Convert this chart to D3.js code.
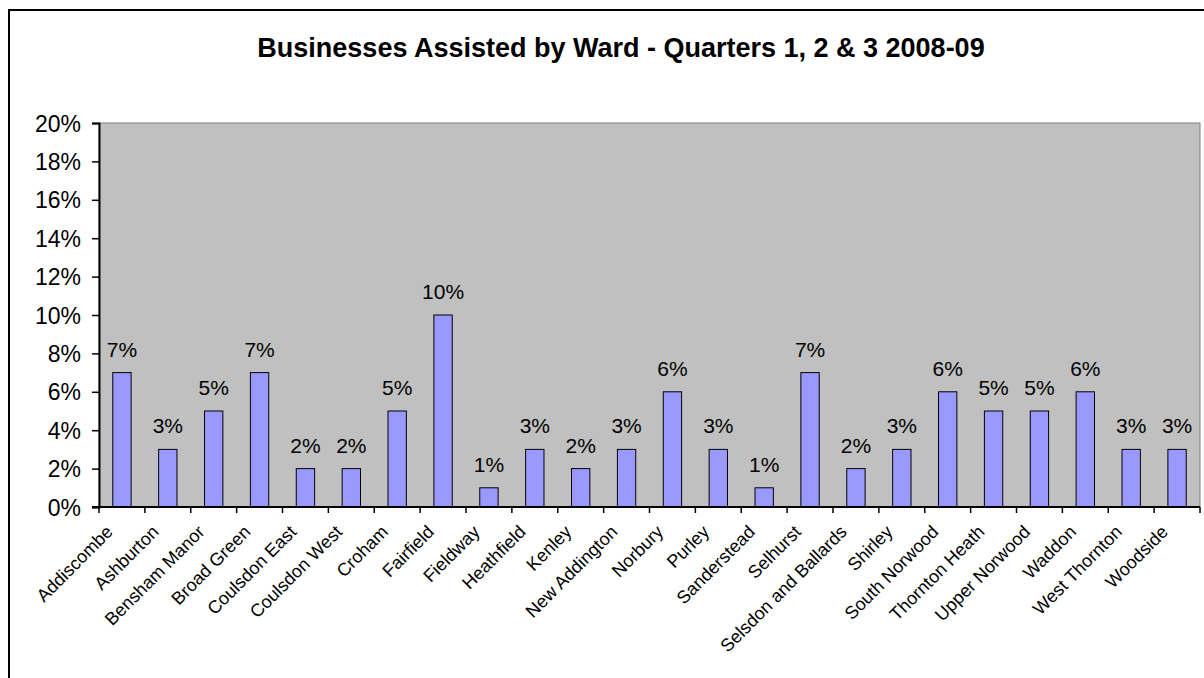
<!DOCTYPE html>
<html>
<head>
<meta charset="utf-8">
<script src="https://cdn.jsdelivr.net/npm/d3@7"></script>
<style>
  body { margin: 0; background: #fff; }
  text { font-family: "Liberation Sans", Arial, sans-serif; fill: #000; }
</style>
</head>
<body>
<script>
var wards = ["Addiscombe", "Ashburton", "Bensham Manor", "Broad Green", "Coulsdon East",
  "Coulsdon West", "Croham", "Fairfield", "Fieldway", "Heathfield", "Kenley",
  "New Addington", "Norbury", "Purley", "Sanderstead", "Selhurst", "Selsdon and Ballards",
  "Shirley", "South Norwood", "Thornton Heath", "Upper Norwood", "Waddon",
  "West Thornton", "Woodside"];
var shares = [7, 3, 5, 7, 2, 2, 5, 10, 1, 3, 2, 3, 6, 3, 1, 7, 2, 3, 6, 5, 5, 6, 3, 3];
var yTicks = [0, 2, 4, 6, 8, 10, 12, 14, 16, 18, 20];
var title = "Businesses Assisted by Ward - Quarters 1, 2 & 3 2008-09";

var w = 1204, h = 678;
var plot = {left: 99, top: 123, right: 1200, bottom: 507};

var svg = d3.select("body").append("svg")
    .attr("width", w)
    .attr("height", h);

// outer chart frame (runs off the picture on the right and bottom)
svg.append("rect")
    .attr("x", 9).attr("y", 10)
    .attr("width", 1260).attr("height", 720)
    .attr("fill", "#fff")
    .attr("stroke", "#000")
    .attr("stroke-width", 2);

svg.append("text")
    .attr("x", 621).attr("y", 57)
    .attr("text-anchor", "middle")
    .attr("font-size", 27)
    .attr("font-weight", "bold")
    .text(title);

var x = d3.scaleBand()
    .domain(wards)
    .range([plot.left, plot.right])
    .paddingInner(0.6)
    .paddingOuter(0.3);

var y = d3.scaleLinear()
    .domain([0, 20])
    .range([plot.bottom, plot.top]);

svg.append("rect")
    .attr("x", plot.left).attr("y", plot.top)
    .attr("width", plot.right - plot.left)
    .attr("height", plot.bottom - plot.top)
    .attr("fill", "#c0c0c0")
    .attr("stroke", "#808080")
    .attr("stroke-width", 1);

svg.selectAll("rect.bar")
    .data(shares)
  .enter().append("rect")
    .attr("class", "bar")
    .attr("x", function(d, i) { return x(wards[i]); })
    .attr("y", function(d) { return y(d); })
    .attr("width", x.bandwidth())
    .attr("height", function(d) { return y(0) - y(d); })
    .attr("fill", "#9999ff")
    .attr("stroke", "#000")
    .attr("stroke-width", 1);

svg.selectAll("text.val")
    .data(shares)
  .enter().append("text")
    .attr("class", "val")
    .attr("x", function(d, i) { return x(wards[i]) + x.bandwidth() / 2; })
    .attr("y", function(d) { return y(d) - 16; })
    .attr("text-anchor", "middle")
    .attr("font-size", 21)
    .text(function(d) { return d + "%"; });

// y axis
var yAxis = d3.axisLeft(y)
    .tickValues(yTicks)
    .tickSize(7)
    .tickFormat(function(d) { return d + "%"; });

var gy = svg.append("g")
    .attr("transform", "translate(" + plot.left + ",0)")
    .call(yAxis);
gy.select(".domain").attr("stroke", "#000").attr("stroke-width", 2);
gy.selectAll(".tick line").attr("stroke", "#000").attr("stroke-width", 1.5);
gy.selectAll(".tick text")
    .attr("x", -18)
    .attr("dy", "0.35em")
    .attr("font-size", 23)
    .attr("font-family", "Liberation Sans, Arial, sans-serif")
    .attr("fill", "#000");

// x axis: ticks sit between categories
var xEdges = d3.range(wards.length + 1).map(function(i) { return plot.left + i * (plot.right - plot.left) / wards.length; });

var gx = svg.append("g");
gx.append("line")
    .attr("x1", plot.left - 7).attr("x2", plot.right)
    .attr("y1", plot.bottom).attr("y2", plot.bottom)
    .attr("stroke", "#000").attr("stroke-width", 2);
gx.selectAll("line.tk")
    .data(xEdges)
  .enter().append("line")
    .attr("class", "tk")
    .attr("x1", function(d) { return d; }).attr("x2", function(d) { return d; })
    .attr("y1", plot.bottom).attr("y2", plot.bottom + 6)
    .attr("stroke", "#000").attr("stroke-width", 1.5);

gx.selectAll("text.cat")
    .data(wards)
  .enter().append("text")
    .attr("class", "cat")
    .attr("text-anchor", "end")
    .attr("font-size", 18)
    .attr("transform", function(d) {
      var cx = x(d) + x.bandwidth() / 2 - 8;
      return "translate(" + cx + "," + (plot.bottom + 26) + ") rotate(-45)";
    })
    .text(function(d) { return d; });
</script>
</body>
</html>
